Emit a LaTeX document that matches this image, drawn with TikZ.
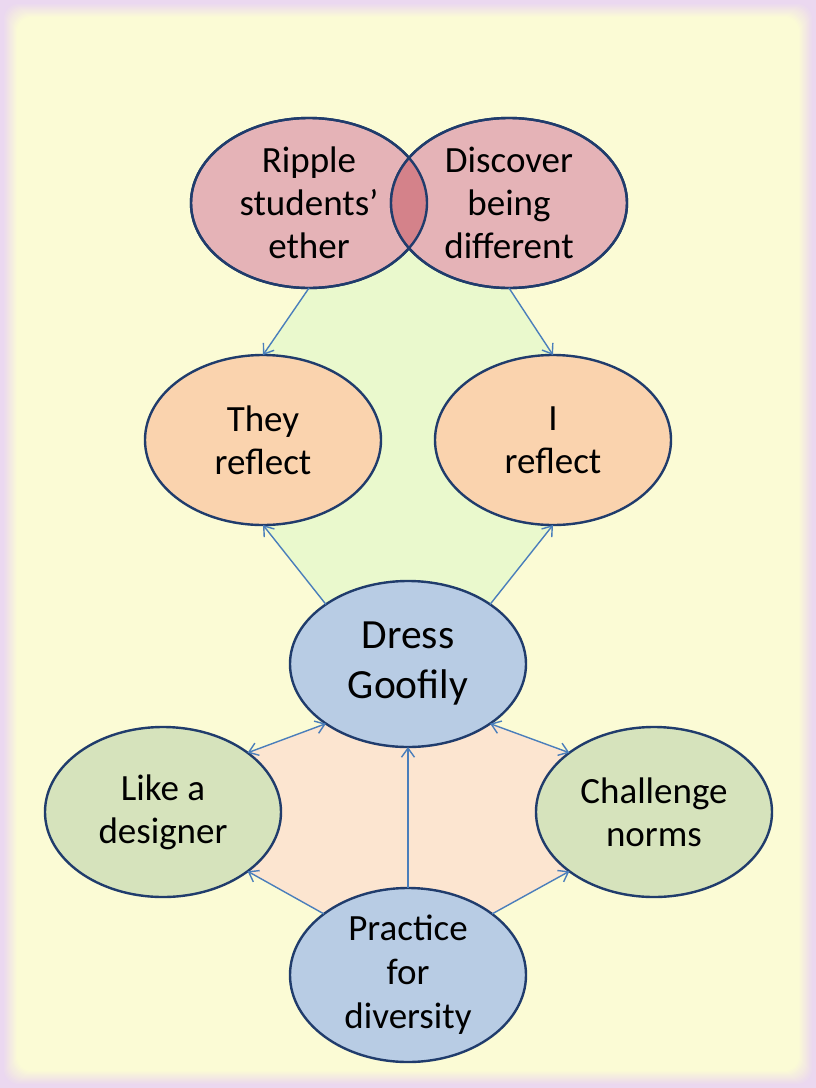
\documentclass[tikz,border=0pt]{standalone}
\usepackage{fontspec}
\setmainfont{Carlito}
\usetikzlibrary{shapes.geometric,arrows.meta}
\definecolor{bgyellow}{HTML}{FBFBD5}
\definecolor{bgpurple}{HTML}{EBD8F0}
\definecolor{greenzone}{HTML}{EAF9CD}
\definecolor{peachzone}{HTML}{FCE5D0}
\definecolor{pinkfill}{HTML}{E5B3B7}
\definecolor{lensfill}{HTML}{D4828A}
\definecolor{orangefill}{HTML}{FAD3AE}
\definecolor{bluefill}{HTML}{B8CCE4}
\definecolor{greenfill}{HTML}{D6E3BC}
\definecolor{outline}{HTML}{203C6C}
\definecolor{arrowblue}{HTML}{4A7EBB}
\pgfdeclarelayer{bottom}
\pgfdeclarelayer{zones}
\pgfsetlayers{bottom,zones,main}
\begin{document}
\begin{tikzpicture}[x=1pt,y=-1pt,
  bubble/.style={ellipse, draw=outline, line width=2.4pt, inner sep=0pt, outer sep=0pt,
    minimum width=236pt, minimum height=170pt},
  lbl/.style={align=center, inner sep=0pt, font=\fontsize{37}{43}\selectfont},
  arr/.style={draw=arrowblue, line width=1.4pt, -{Straight Barb[length=9pt,width=13pt]}},
  darr/.style={draw=arrowblue, line width=1.4pt, {Straight Barb[length=9pt,width=13pt]}-{Straight Barb[length=9pt,width=13pt]}}
]
\useasboundingbox (0,0) rectangle (816,1088);
\begin{pgfonlayer}{bottom}
  \fill[bgpurple] (0,0) rectangle (816,1088);
  \foreach \i in {0,...,14}{
    \pgfmathsetmacro{\mix}{\i*100/14}
    \fill[bgyellow!\mix!bgpurple, rounded corners=14pt] (3+\i,3+\i) rectangle (813-\i,1085-\i);
  }
\end{pgfonlayer}

\node[bubble, fill=pinkfill, label={[lbl]center:{Ripple\\students'\\ether}}] (ripple) at (309,203) {};
\node[bubble, fill=pinkfill, label={[lbl]center:{Discover\\being\\different}}] (disc) at (509,203) {};
\begin{scope}
  \clip (ripple.center) ellipse [x radius=118, y radius=85];
  \fill[lensfill] (disc.center) ellipse [x radius=118, y radius=85];
\end{scope}
\draw[outline, line width=2.4pt] (ripple.center) ellipse [x radius=118, y radius=85];
\draw[outline, line width=2.4pt] (disc.center) ellipse [x radius=118, y radius=85];

\node[bubble, fill=orangefill, label={[lbl]center:{They\\reflect}}] (they) at (263,440) {};
\node[bubble, fill=orangefill, label={[lbl]center:{I\\reflect}}] (me) at (553,440) {};
\node[bubble, fill=bluefill, minimum height=166pt,
  label={[lbl, font=\fontsize{41.5}{50}\selectfont]center:{Dress\\Goofily}}] (dress) at (408,664) {};
\node[bubble, fill=greenfill, label={[lbl]center:{Like a\\designer}}] (like) at (163,812) {};
\node[bubble, fill=greenfill, label={[lbl]center:{Challenge\\norms}}] (chal) at (654,812) {};
\node[bubble, fill=bluefill, minimum height=174pt,
  label={[lbl, font=\fontsize{37}{44}\selectfont]center:{Practice\\for\\diversity}}] (prac) at (408,975) {};

\begin{pgfonlayer}{zones}
  \fill[greenzone] (ripple.south) -- (ripple.center) -- (disc.center) -- (disc.south) -- (me.north) -- (me.south) -- (dress.36)
    -- (dress.144) -- (they.south) -- (they.north) -- cycle;
  \fill[peachzone] (like.35) -- (dress.216) -- (dress.324) -- (chal.145) -- (chal.215)
    -- (prac.36) -- (prac.144) -- (like.-35) -- cycle;
\end{pgfonlayer}

\draw[arr] (ripple.south) -- (they.north);
\draw[arr] (disc.south) -- (me.north);
\draw[arr] (dress.144) -- (they.south);
\draw[arr] (dress.36) -- (me.south);
\draw[darr] (like.35) -- (dress.216);
\draw[darr] (dress.324) -- (chal.145);
\draw[arr] (prac.north) -- (dress.south);
\draw[arr] (prac.144) -- (like.-35);
\draw[arr] (prac.36) -- (chal.215);
\end{tikzpicture}
\end{document}
